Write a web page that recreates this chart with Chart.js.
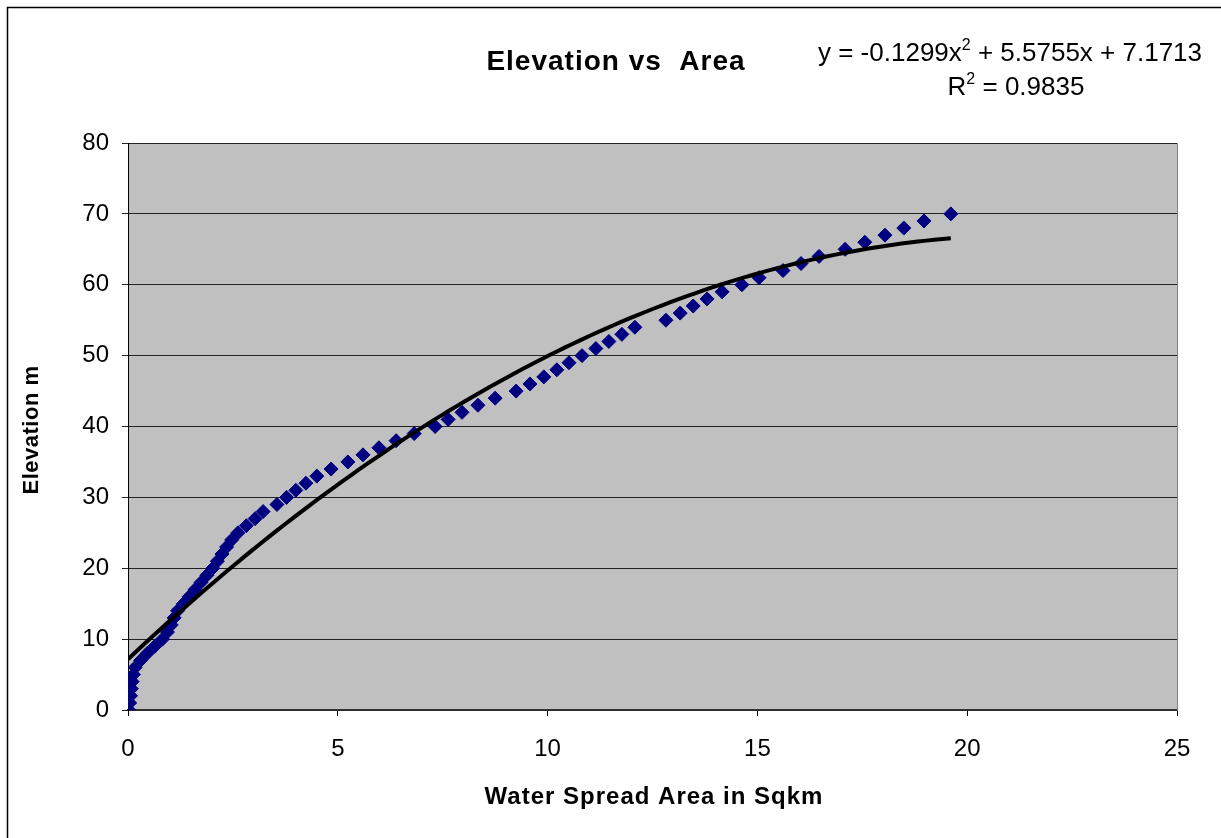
<!DOCTYPE html>
<html>
<head>
<meta charset="utf-8">
<script src="https://cdn.jsdelivr.net/npm/chart.js@4"></script>
<style>
  html, body { margin: 0; padding: 0; background: #fff; }
  #wrap { width: 1221px; height: 838px; position: relative; }
</style>
</head>
<body>
<div id="wrap"><canvas id="c" width="1221" height="838"></canvas></div>
<script>
// ---- data ----
const elevation = [
  0,1,2,3,4,5,6,7,8,9,10,11,12,13,14,15,16,17,18,19,20,
  21,22,23,24,25,26,27,28,29,30,31,32,33,34,35,36,37,38,39,40,
  41,42,43,44,45,46,47,48,49,50,51,52,53,54,55,56,57,58,59,60,
  61,62,63,64,65,66,67,68,69,70
];
const area = [
  0.02,0.04,0.06,0.08,0.10,0.13,0.17,0.30,0.46,0.64,0.82,
  0.94,1.03,1.10,1.18,1.32,1.46,1.60,1.74,1.88,2.02,
  2.13,2.24,2.35,2.47,2.62,2.82,3.03,3.22,3.55,3.78,
  4.00,4.24,4.50,4.84,5.24,5.60,5.98,6.39,6.82,7.32,
  7.63,7.96,8.34,8.75,9.25,9.58,9.91,10.22,10.51,10.82,
  11.15,11.46,11.77,12.08,12.82,13.16,13.47,13.80,14.16,14.63,
  15.04,15.61,16.04,16.47,17.09,17.56,18.04,18.49,18.97,19.61
];
// polynomial trendline coefficients shown on the chart (a*x^2 + b*x + c)
const trendCoef = [-0.1299, 5.5755, 7.1713];
const xTicks = [0, 5, 10, 15, 20, 25];
const yTicks = [0, 10, 20, 30, 40, 50, 60, 70, 80];

const titleText = 'Elevation vs  Area';
const xTitle = 'Water Spread Area in Sqkm';
const yTitle = 'Elevation m';

const points = area.map((x, i) => ({ x: x, y: elevation[i] }));
const xMaxData = Math.max(...area);
const trend = [];
for (let k = 0; k <= 100; k++) {
  const x = xMaxData * k / 100;
  trend.push({ x: x, y: trendCoef[0] * x * x + trendCoef[1] * x + trendCoef[2] });
}

const FONT = '"Liberation Sans", Arial, sans-serif';

const decor = {
  id: 'decor',
  beforeDraw(chart) {
    const { ctx, chartArea: a } = chart;
    ctx.save();
    ctx.fillStyle = '#C0C0C0';
    ctx.fillRect(a.left, a.top, a.right - a.left, a.bottom - a.top);
    ctx.restore();
  },
  afterDraw(chart) {
    const { ctx, chartArea: a } = chart;
    ctx.save();
    // plot right border
    ctx.strokeStyle = '#808080';
    ctx.lineWidth = 1;
    ctx.beginPath();
    ctx.moveTo(a.right + 0.5, a.top);
    ctx.lineTo(a.right + 0.5, a.bottom);
    ctx.stroke();
    // outer chart border (runs off the right / bottom)
    ctx.strokeStyle = '#000';
    ctx.lineWidth = 1.5;
    ctx.strokeRect(7.5, 7.5, 1400, 1000);

    ctx.fillStyle = '#000';
    // title
    ctx.font = 'bold 28px ' + FONT;
    ctx.letterSpacing = '1px';
    ctx.textAlign = 'center';
    ctx.textBaseline = 'alphabetic';
    ctx.fillText(titleText, 616, 70);
    // x axis title
    ctx.font = 'bold 24px ' + FONT;
    ctx.letterSpacing = '1px';
    ctx.fillText(xTitle, 654, 804);
    // y axis title
    ctx.save();
    ctx.translate(38, 430);
    ctx.rotate(-Math.PI / 2);
    ctx.font = 'bold 22px ' + FONT;
    ctx.letterSpacing = '0.5px';
    ctx.fillText(yTitle, 0, 0);
    ctx.restore();

    // equation
    ctx.letterSpacing = '0px';
    ctx.textAlign = 'left';
    const big = '26px ' + FONT, small = '16px ' + FONT;
    function drawSegs(segs, cx, base) {
      let w = 0;
      segs.forEach(s => { ctx.font = s[1] ? small : big; s.w = ctx.measureText(s[0]).width; w += s.w; });
      let x = cx - w / 2;
      segs.forEach(s => {
        ctx.font = s[1] ? small : big;
        ctx.fillText(s[0], x, s[1] ? base - 11 : base);
        x += s.w;
      });
    }
    const fmt = v => String(Math.abs(v));
    drawSegs([['y = ' + (trendCoef[0] < 0 ? '-' : '') + fmt(trendCoef[0]) + 'x', false], ['2', true],
              [' + ' + fmt(trendCoef[1]) + 'x + ' + fmt(trendCoef[2]), false]], 1010, 61);
    drawSegs([['R', false], ['2', true], [' = 0.9835', false]], 1016, 95);
    ctx.restore();
  }
};

new Chart(document.getElementById('c'), {
  type: 'scatter',
  data: {
    datasets: [
      {
        label: 'Trend',
        type: 'line',
        data: trend,
        borderColor: '#000',
        borderWidth: 4,
        pointRadius: 0,
        fill: false,
        tension: 0,
        order: 0
      },
      {
        label: 'Elevation',
        data: points,
        pointStyle: 'rectRot',
        pointRadius: 7,
        backgroundColor: '#000080',
        borderColor: '#000080',
        borderWidth: 1,
        order: 1
      }
    ]
  },
  options: {
    responsive: false,
    animation: false,
    devicePixelRatio: 1,
    layout: { padding: { top: 143, right: 44, left: 0, bottom: 0 } },
    plugins: { legend: { display: false }, tooltip: { enabled: false }, title: { display: false } },
    scales: {
      x: {
        type: 'linear',
        min: 0, max: 25,
        afterFit(s) { s.height = 128; },
        afterBuildTicks(s) { s.ticks = xTicks.map(v => ({ value: v })); },
        ticks: { color: '#000', font: { family: FONT, size: 24 }, padding: 19, maxRotation: 0 },
        grid: { drawOnChartArea: false, drawTicks: true, tickLength: 6, color: '#000' },
        border: { color: '#333', width: 1.5 }
      },
      y: {
        type: 'linear',
        min: 0, max: 80,
        afterFit(s) { s.width = 128; },
        afterBuildTicks(s) { s.ticks = yTicks.map(v => ({ value: v })); },
        ticks: { color: '#000', font: { family: FONT, size: 24 }, padding: 13 },
        grid: { drawOnChartArea: true, drawTicks: true, tickLength: 6, color: '#222', lineWidth: 1 },
        border: { color: '#000', width: 1 }
      }
    }
  },
  plugins: [decor]
});
</script>
</body>
</html>
